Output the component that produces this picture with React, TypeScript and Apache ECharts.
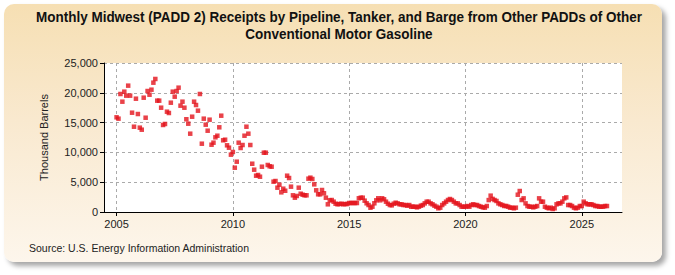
import React, { useEffect, useRef } from "react";
import * as echarts from "echarts";

// Monthly receipts, thousand barrels (Jan–Dec of each year)
const startYear = 2005;
const y2005 = [15890, 15660, 19800, 18510, 20190, 19520, 21200, 19520, 16660, 14310, 19010, 16440];
const y2006 = [14150, 13810, 19180, 15820, 20300, 19680, 20520, 21700, 22320, 18680, 18680, 17500];
const y2007 = [14600, 14770, 16830, 16610, 18340, 20190, 19350, 20300, 20860, 17840, 18510, 17500];
const y2008 = [15560, 14820, 13140, 15990, 18510, 17950, 17000, 19800, 11460, 15660, 14650, 13640];
const y2009 = [15490, 11290, 11630, 12530, 12800, 14210, 16160, 12030, 12130, 11190, 10790, 9620];
const y2010 = [10070, 7430, 8440, 11630, 10740, 11240, 12800, 14310, 13140, 11240, 8100, 7100];
const y2011 = [6090, 6210, 5920, 7600, 9950, 9950, 7890, 7670, 7600, 5090, 5200, 4080];
const y2012 = [4580, 3300, 3910, 3570, 6090, 5700, 4250, 2800, 2400, 2690, 4080, 3070];
const y2013 = [2900, 2800, 2800, 5590, 5760, 5540, 4640, 3640, 2970, 2970, 3690, 3140];
const y2014 = [2400, 1290, 1960, 2010, 1730, 1390, 1290, 1340, 1390, 1290, 1340, 1340];
const y2015 = [1510, 1510, 1510, 1510, 1510, 2300, 2400, 2400, 1900, 1460, 1170, 720];
const y2016 = [890, 1460, 1960, 2300, 1960, 2300, 2130, 1730, 1390, 1170, 1120, 1390];
const y2017 = [1560, 1450, 1290, 1290, 1170, 1170, 1060, 1170, 890, 890, 890, 780];
const y2018 = [890, 1060, 1170, 1450, 1730, 1730, 1450, 1290, 1060, 890, 620, 730];
const y2019 = [1170, 1450, 1730, 2010, 2180, 2010, 1730, 1450, 1450, 1170, 890, 890];
const y2020 = [890, 1000, 890, 1170, 1290, 1170, 1170, 1000, 890, 780, 730, 1000];
const y2021 = [2000, 2740, 2200, 2010, 1850, 1450, 1290, 1170, 1010, 1010, 890, 730];
const y2022 = [730, 620, 730, 2900, 3520, 2010, 2290, 1450, 1000, 890, 890, 780];
const y2023 = [890, 1000, 2290, 1730, 1730, 890, 730, 620, 730, 500, 620, 1290];
const y2024 = [1450, 1450, 1730, 2290, 2450, 1170, 1170, 1000, 730, 620, 730, 1000];
const y2025 = [1000, 1730, 1450, 1290, 1290, 1290, 1170, 1000, 1000, 890, 890, 890];
const y2026 = [1000, 1000];

const yearlySeries = [
  y2005, y2006, y2007, y2008, y2009, y2010, y2011, y2012, y2013, y2014, y2015,
  y2016, y2017, y2018, y2019, y2020, y2021, y2022, y2023, y2024, y2025, y2026,
];

const xTickYears = [2005, 2010, 2015, 2020, 2025];
const yTicks = [0, 5000, 10000, 15000, 20000, 25000];

const titleLines = [
  "Monthly Midwest (PADD 2) Receipts by Pipeline, Tanker, and Barge from Other PADDs of Other",
  "Conventional Motor Gasoline",
];
const sourceText = "Source: U.S. Energy Information Administration";

const points: [number, number][] = [];
yearlySeries.forEach((months, yi) => {
  months.forEach((v, mi) => points.push([startYear + yi + mi / 12, v]));
});

const labelFont = "'Liberation Sans', Arial, sans-serif";

export default function App() {
  const ref = useRef<HTMLDivElement>(null);

  useEffect(() => {
    if (!ref.current) return;
    const chart = echarts.init(ref.current, undefined, { renderer: "svg" });
    chart.setOption({
      animation: false,
      grid: {
        left: 104,
        top: 63,
        width: 518,
        height: 149,
        show: true,
        backgroundColor: "#ffffff",
        borderWidth: 0,
      },
      xAxis: {
        type: "value",
        min: 2004.46,
        max: 2026.73,
        axisLine: { show: true, lineStyle: { color: "#000", width: 1 } },
        axisTick: {
          show: true,
          length: 4,
          customValues: xTickYears,
          lineStyle: { color: "#000" },
        },
        axisLabel: {
          customValues: xTickYears,
          formatter: (v: number) => String(Math.round(v)),
          fontFamily: labelFont,
          fontSize: 11,
          color: "#222",
          margin: 6,
        },
        splitLine: {
          show: true,
          lineStyle: { color: "#aaaaaa", type: [3, 3], width: 1 },
        },
      },
      yAxis: {
        type: "value",
        min: 0,
        max: 25000,
        interval: 5000,
        name: "Thousand Barrels",
        nameLocation: "middle",
        nameGap: 55,
        nameTextStyle: { fontFamily: labelFont, fontSize: 11, color: "#222" },
        axisLine: { show: true, lineStyle: { color: "#000", width: 1 } },
        axisTick: { show: true, length: 4, lineStyle: { color: "#000" } },
        axisLabel: {
          formatter: (v: number) => (yTicks.includes(v) ? v.toLocaleString("en-US") : ""),
          fontFamily: labelFont,
          fontSize: 11,
          color: "#222",
          margin: 6,
        },
        splitLine: {
          show: true,
          lineStyle: { color: "#aaaaaa", type: [3, 3], width: 1 },
        },
      },
      graphic: [
        ...titleLines.map((line, i) => ({
          type: "text",
          x: 339,
          y: 17 + i * 17,
          scaleX: 0.9,
          style: {
            text: line,
            align: "center",
            verticalAlign: "middle",
            fontFamily: labelFont,
            fontWeight: "bold",
            fontSize: 15,
            fill: "#111",
          },
        })),
        {
          type: "text",
          left: 29,
          top: 242,
          style: { text: sourceText, fontFamily: labelFont, fontSize: 10.5, fill: "#222" },
        },
      ],
      series: [
        {
          type: "scatter",
          data: points,
          symbol: "rect",
          symbolSize: 4.5,
          itemStyle: { color: "#e3131b" },
        },
      ],
    });
    return () => chart.dispose();
  }, []);

  return (
    <div style={{ position: "fixed", left: 0, top: 0, width: 675, height: 275, background: "#fff" }}>
      <div
        style={{
          position: "absolute",
          left: 4,
          top: 4,
          width: 658,
          height: 258,
          borderRadius: 10,
          background: "linear-gradient(to bottom, #f6dfb3 0%, #f9e9cf 45%, #fdf6ec 100%)",
          boxShadow: "4px 4px 5px rgba(0,0,0,0.35)",
        }}
      />
      <div ref={ref} style={{ position: "absolute", left: 0, top: 0, width: 675, height: 275 }} />
    </div>
  );
}
